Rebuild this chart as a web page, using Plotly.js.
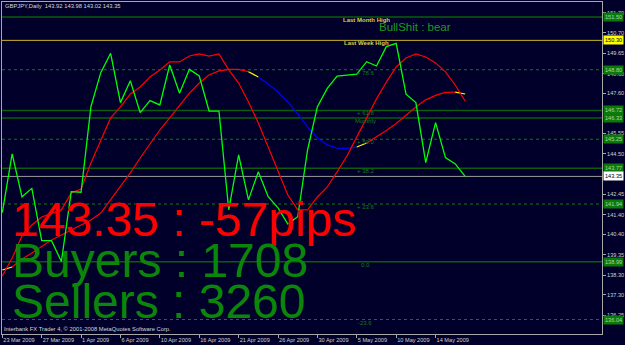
<!DOCTYPE html>
<html><head><meta charset="utf-8">
<script src="https://cdn.plot.ly/plotly-3.0.1.min.js"></script>
<style>html,body{margin:0;padding:0;background:#00002a;}#chart{width:625px;height:345px;}</style>
</head><body><div id="chart"></div>
<script>
// ---- data ----
const dates = ["23 Mar 2009","24 Mar 2009","25 Mar 2009","26 Mar 2009","27 Mar 2009","29 Mar 2009","30 Mar 2009","31 Mar 2009",
 "1 Apr 2009","2 Apr 2009","3 Apr 2009","5 Apr 2009","6 Apr 2009","7 Apr 2009","8 Apr 2009","9 Apr 2009",
 "10 Apr 2009","13 Apr 2009","14 Apr 2009","15 Apr 2009","16 Apr 2009","17 Apr 2009","19 Apr 2009","20 Apr 2009",
 "21 Apr 2009","22 Apr 2009","23 Apr 2009","24 Apr 2009","26 Apr 2009","27 Apr 2009","28 Apr 2009","29 Apr 2009",
 "30 Apr 2009","1 May 2009","3 May 2009","4 May 2009","5 May 2009","6 May 2009","7 May 2009","8 May 2009",
 "10 May 2009","11 May 2009","12 May 2009","13 May 2009","14 May 2009","15 May 2009","17 May 2009","18 May 2009"];
const closePrice = [141.50,144.50,142.31,142.74,140.07,140.07,139.00,142.57,142.54,146.91,148.65,149.64,147.12,148.24,146.61,147.22,
 147.00,149.04,147.60,148.82,148.48,146.69,146.69,141.64,144.45,142.15,143.59,142.31,141.74,140.92,141.29,144.70,
 146.91,147.85,148.48,148.53,148.58,149.21,148.99,149.98,150.15,147.55,147.12,144.05,146.10,144.31,143.99,143.35];
const fastMA = [138.26,139.18,140.31,140.87,141.28,141.48,141.64,142.50,142.71,144.04,145.21,146.34,146.90,147.56,147.92,148.43,
 148.79,149.20,149.20,149.50,149.61,149.50,149.61,148.79,148.12,147.15,146.08,144.85,143.68,142.40,141.64,141.64,
 142.30,142.81,143.58,144.39,145.37,146.34,147.31,148.17,148.94,149.40,149.61,149.45,149.15,148.69,148.02,147.20];
const slowMA = [138.57,138.72,139.13,139.44,139.75,140.10,140.36,140.61,140.87,141.12,141.48,142.15,142.81,143.53,144.29,145.01,
 145.72,146.34,147.00,147.61,148.12,148.53,148.74,148.82,148.82,148.70,148.43,148.07,147.66,147.15,146.54,145.88,
 145.31,144.96,144.80,144.78,144.85,145.06,145.37,145.70,146.05,146.49,146.90,147.26,147.49,147.64,147.66,147.56];
// slow MA colour runs: [from bar, to bar, state]  state: up / down / flat
const slowRuns = [[0,1,"flat"],[1,25,"up"],[25,26,"flat"],[26,36,"down"],[36,37,"flat"],[37,46,"up"],[46,47,"flat"]];
const tickLabels = ["23 Mar 2009","27 Mar 2009","1 Apr 2009","6 Apr 2009","10 Apr 2009","16 Apr 2009","21 Apr 2009",
 "26 Apr 2009","30 Apr 2009","5 May 2009","10 May 2009","14 May 2009"];
const yTicks = [151.70,150.70,149.65,148.60,147.60,145.55,144.50,142.45,141.40,140.40,139.35,138.30,137.30,136.25,135.25];
const levelValues = [151.50,150.30,148.80,146.72,146.33,145.25,143.77,143.35,141.94,138.99,136.04];
const levelKinds  = ["month","week","fibdot","fib","monthly","fibdot","fib","price","fibdot","fib","fibdot"];
const levelTexts  = ["Last Month High","Last Week High","+ 78.6","+ 61.8","Monthly","+ 50.0","+ 38.2","","+ 23.6","0.0","-23.6"];
const header = "GBPJPY,Daily  143.92 143.98 143.02 143.35";
const lastPrice = 143.35, pips = -57, buyers = 1708, sellers = 3260, bias = "bear";

// ---- layout helpers ----
const L=2, R=602, T=2, B=334;
const px = v => (v-L)/(R-L);
const py = v => (B-v)/(B-T);
const idx = dates.map((d,i)=>i);
const styles = {
  month:{color:"#0d5c0d",width:1.5,dash:"solid",box:"#0b7a0b",boxText:"#a8d8a8"},
  week:{color:"#c8b428",width:1,dash:"solid",box:"#ffff00",boxText:"#000000"},
  fibdot:{color:"#0e7a0e",width:1,dash:"dot",box:"#0b7a0b",boxText:"#a8d8a8"},
  fib:{color:"#0d5c0d",width:1.5,dash:"solid",box:"#0b7a0b",boxText:"#a8d8a8"},
  monthly:{color:"#0d5c0d",width:1.5,dash:"solid",box:"#0b7a0b",boxText:"#a8d8a8"},
  price:{color:"#9a9a9a",width:1,dash:"solid",box:"#ffffff",boxText:"#000000"}
};
const runColor = {up:"#ff0000",down:"#0000ff",flat:"#ffff00"};

const traces = [];
slowRuns.forEach(r=>{
  const xs=[],ys=[];
  for(let i=r[0];i<=r[1];i++){xs.push(idx[i]);ys.push(slowMA[i]);}
  traces.push({x:xs,y:ys,mode:"lines",line:{color:runColor[r[2]],width:1.2},hoverinfo:"skip",showlegend:false});
});
traces.push({x:idx,y:fastMA,mode:"lines",line:{color:"#ff0000",width:1.2},showlegend:false});
traces.push({x:idx,y:closePrice,mode:"lines",line:{color:"#00ff00",width:1.3},showlegend:false});

const shapes = levelValues.map((v,i)=>{const s=styles[levelKinds[i]];
  return {type:"line",xref:"paper",x0:0,x1:1,yref:"y",y0:v,y1:v,layer:"below",line:{color:s.color,width:s.width,dash:s.dash}};});

const FF = "Liberation Sans, Arial, sans-serif";
const ann = [];
const labelX = {month:342,week:343,fibdot:356,fib:356,monthly:354,price:0};
levelValues.forEach((v,i)=>{
  const k=levelKinds[i]; const s=styles[k];
  if(levelTexts[i]){
    const isHigh = (k==="month"||k==="week");
    let x = labelX[k]; if(levelTexts[i]==="0.0") x=360; if(levelTexts[i]==="-23.6") x=357;
    ann.push({xref:"paper",yref:"y",x:px(x),y:v,xanchor:"left",yanchor:"top",yshift:1,showarrow:false,borderpad:0,
      text:isHigh?"<b>"+levelTexts[i]+"</b>":levelTexts[i],
      font:{family:FF,size:6,color:isHigh?"#d8d050":"#1a7a1a"}});
  }
  ann.push({xref:"paper",yref:"y",x:px(603),y:v,xanchor:"left",yanchor:"middle",showarrow:false,borderpad:1,bgcolor:s.box,
    text:v.toFixed(2),font:{family:FF,size:5.6,color:s.boxText}});
});
ann.push({xref:"paper",yref:"paper",x:px(377),y:py(26.5),xanchor:"left",yanchor:"middle",showarrow:false,
  text:"BullShit : "+bias,font:{family:FF,size:11.5,color:"#1e9a1e"}});
ann.push({xref:"paper",yref:"paper",x:px(3),y:py(6),xanchor:"left",yanchor:"middle",showarrow:false,
  text:header,font:{family:FF,size:5.8,color:"#d8d8d8"}});
ann.push({xref:"paper",yref:"paper",x:px(2),y:py(328.5),xanchor:"left",yanchor:"middle",showarrow:false,
  text:"Interbank FX Trader 4, © 2001-2008 MetaQuotes Software Corp.",font:{family:FF,size:5.8,color:"#d8d8d8"}});
ann.push({xref:"paper",yref:"paper",x:px(10),y:py(220),xanchor:"left",yanchor:"middle",showarrow:false,
  text:lastPrice.toFixed(2)+" : "+pips+"pips",font:{family:FF,size:48,color:"#ff0000"}});
ann.push({xref:"paper",yref:"paper",x:px(10),y:py(260),xanchor:"left",yanchor:"middle",showarrow:false,
  text:"Buyers : "+buyers,font:{family:FF,size:48,color:"#0b860b"}});
ann.push({xref:"paper",yref:"paper",x:px(10),y:py(301),xanchor:"left",yanchor:"middle",showarrow:false,
  text:"Sellers : "+sellers,font:{family:FF,size:48,color:"#0b860b"}});

const layout = {
  width:625,height:345,margin:{l:L,r:625-R,t:T,b:345-B},
  paper_bgcolor:"#00002a",plot_bgcolor:"#00002a",showlegend:false,
  font:{family:FF,size:6,color:"#c8c8c8"},
  xaxis:{range:[-0.03,60.9],showgrid:false,zeroline:false,showline:true,mirror:true,linecolor:"#a8a8a8",linewidth:1,
    ticks:"outside",ticklen:3,tickcolor:"#a8a8a8",tickvals:tickLabels.map(t=>dates.indexOf(t)),ticktext:tickLabels,
    tickangle:0,ticklabelposition:"outside right",tickfont:{family:FF,size:5.6,color:"#d0d0d0"},fixedrange:true},
  yaxis:{side:"right",range:[135.30,152.26],showgrid:false,zeroline:false,showline:true,mirror:true,linecolor:"#a8a8a8",linewidth:1,
    ticks:"outside",ticklen:3,tickcolor:"#a8a8a8",tickvals:yTicks,ticktext:yTicks.map(v=>v.toFixed(2)),
    tickfont:{family:FF,size:5.6,color:"#d0d0d0"},fixedrange:true},
  shapes:shapes,annotations:ann
};
Plotly.newPlot("chart",traces,layout,{staticPlot:true,displayModeBar:false});
</script></body></html>
